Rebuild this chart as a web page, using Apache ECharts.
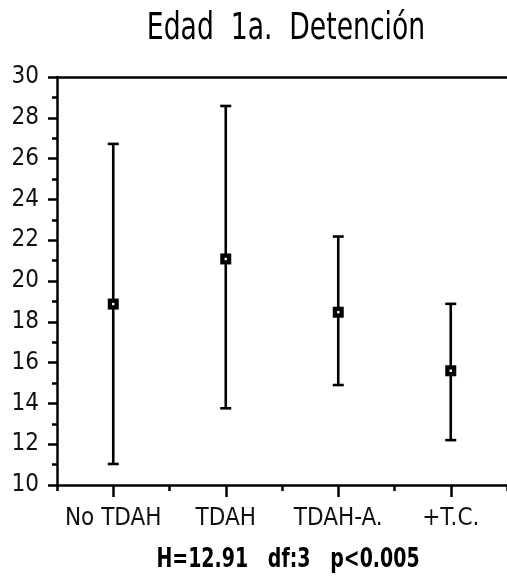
<!DOCTYPE html>
<html>
<head>
<meta charset="utf-8">
<script src="https://cdn.jsdelivr.net/npm/echarts@6/dist/echarts.min.js"></script>
<style>
html,body{margin:0;padding:0;background:#fff;}
#main{width:507px;height:577px;}
</style>
</head>
<body>
<div id="main"></div>
<script>
const categories = ['No TDAH', 'TDAH', 'TDAH-A.', '+T.C.'];
const means = [18.87, 21.08, 18.47, 15.6];
const lows = [11.03, 13.76, 14.9, 12.2];
const highs = [26.72, 28.58, 22.18, 18.88];
const yTicks = [10, 30, 2];
const titleText = 'Edad  1a.  Detención';
const footerText = 'H=12.91   df:3   p<0.005';

const FONT = '"DejaVu Sans Condensed", "Liberation Sans", sans-serif';
const chart = echarts.init(document.getElementById('main'), null, {renderer: 'canvas'});

const data = categories.map((c, i) => [i, means[i], lows[i], highs[i]]);

function renderItem(params, api) {
  const x = api.value(0);
  const pm = api.coord([x, api.value(1)]);
  const pl = api.coord([x, api.value(2)]);
  const ph = api.coord([x, api.value(3)]);
  const cap = 5.5;
  const style = {stroke: '#000', lineWidth: 2.6};
  return {
    type: 'group',
    children: [
      {type: 'line', shape: {x1: pm[0], y1: pl[1], x2: pm[0], y2: ph[1]}, style: style},
      {type: 'line', shape: {x1: pm[0] - cap, y1: ph[1], x2: pm[0] + cap, y2: ph[1]}, style: style},
      {type: 'line', shape: {x1: pm[0] - cap, y1: pl[1], x2: pm[0] + cap, y2: pl[1]}, style: style},
      {type: 'rect', shape: {x: pm[0] - 5.5, y: pm[1] - 5.5, width: 11, height: 11}, style: {fill: '#000'}},
      {type: 'rect', shape: {x: pm[0] - 1.2, y: pm[1] - 1.2, width: 2.4, height: 2.4}, style: {fill: '#fff'}}
    ]
  };
}

chart.setOption({
  animation: false,
  backgroundColor: '#fff',
  grid: {left: 57, top: 77, width: 457, height: 408, containLabel: false},
  xAxis: [
    {
      type: 'category', data: categories, position: 'bottom',
      boundaryGap: true,
      axisLine: {show: true, lineStyle: {color: '#000', width: 2.5}},
      axisTick: {show: true, alignWithLabel: true, length: 12, lineStyle: {color: '#000', width: 2.5}},
      axisLabel: {interval: 0, color: '#111', fontFamily: FONT, fontSize: 24, margin: 22},
      splitLine: {show: false}
    },
    {
      type: 'category', data: categories, position: 'bottom',
      boundaryGap: true,
      axisLine: {show: false},
      axisTick: {show: true, interval: 0, length: 6, lineStyle: {color: '#000', width: 2.5}},
      axisLabel: {show: false},
      splitLine: {show: false}
    },
    {
      type: 'category', data: categories, position: 'top',
      axisLine: {show: true, lineStyle: {color: '#000', width: 2.5}},
      axisTick: {show: false},
      axisLabel: {show: false},
      splitLine: {show: false}
    }
  ],
  yAxis: {
    type: 'value', min: yTicks[0], max: yTicks[1], interval: yTicks[2],
    axisLine: {show: true, lineStyle: {color: '#000', width: 2.5}},
    axisTick: {show: true, length: 9, lineStyle: {color: '#000', width: 2.5}},
    minorTick: {show: true, splitNumber: 2, length: 5, lineStyle: {color: '#000', width: 2.5}},
    axisLabel: {color: '#111', fontFamily: FONT, fontSize: 24, margin: 18},
    splitLine: {show: false}
  },
  graphic: [
    {type: 'text', x: 286, y: 29, scaleX: 0.8, style: {text: titleText, fontFamily: FONT, fontSize: 37, fill: '#000', textAlign: 'center', textVerticalAlign: 'middle'}},
    {type: 'text', x: 288, y: 560, scaleX: 0.78, style: {text: footerText, fontFamily: FONT, fontSize: 27, fontWeight: 'bold', fill: '#000', textAlign: 'center', textVerticalAlign: 'middle'}}
  ],
  series: [{
    type: 'custom',
    xAxisIndex: 0,
    renderItem: renderItem,
    data: data,
    encode: {x: 0, y: [1, 2, 3]},
    clip: false
  }]
});
</script>
</body>
</html>
